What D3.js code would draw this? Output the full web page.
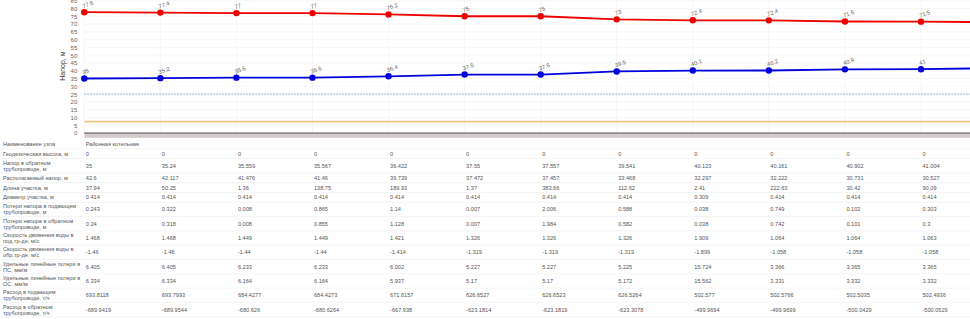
<!DOCTYPE html>
<html>
<head>
<meta charset="utf-8">
<script src="https://cdn.jsdelivr.net/npm/d3@7"></script>
<style>
  body { margin: 0; background: #fff; }
  svg { display: block; font-family: "Liberation Sans", Arial, sans-serif; }
  .tick-label { font-size: 6px; fill: #666; }
  .axis-label { font-size: 7px; fill: #333; }
  .pt-label { font-size: 5.8px; fill: #666; }
  .cell { font-size: 5.6px; fill: #555; }
</style>
</head>
<body>
<svg id="chart" width="970" height="319"></svg>
<script>
// DATA
// head in the supply pipe (red) and return pipe (blue), m
// the 13th point sits just past the right edge
const supplyHead = [77.6, 77.357, 77.035, 77.027, 76.161, 75.022, 75.014, 73.009, 72.42, 72.383, 71.633, 71.531, 71.2];
const returnHead = [35, 35.24, 35.559, 35.567, 36.422, 37.55, 37.557, 39.541, 40.123, 40.161, 40.902, 41.004, 41.7];
const staticHead = [7.3, 7.3, 7.3, 7.3, 7.3, 7.3, 7.3, 7.3, 7.3, 7.3, 7.3, 7.3, 7.3];
const minHead = 25;
const groundLevel = [0, 0, 0, 0, 0, 0, 0, 0, 0, 0, 0, 0, 0];
const yTicks = d3.range(0, 90, 5);

const rowLabels = [
    ["Наименование узла"],
    ["Геодезическая высота, м"],
    ["Напор в обратном", "трубопроводе, м"],
    ["Располагаемый напор, м"],
    ["Длина участка, м"],
    ["Диаметр участка, м"],
    ["Потери напора в подающем", "трубопроводе, м"],
    ["Потери напора в обратном", "трубопроводе, м"],
    ["Скорость движения воды в", "под.тр-де, м/с"],
    ["Скорость движения воды в", "обр.тр-де, м/с"],
    ["Удельные линейные потери в", "ПС, мм/м"],
    ["Удельные линейные потери в", "ОС, мм/м"],
    ["Расход в подающем", "трубопроводе, т/ч"],
    ["Расход в обратном", "трубопроводе, т/ч"]
];

const nodeNames = ["Районная котельная", "", "", "", "", "", "", "", "", "", "", ""];
const geoHeight = ["0", "0", "0", "0", "0", "0", "0", "0", "0", "0", "0", "0"];
const returnHeadCol = ["35", "35.24", "35.559", "35.567", "36.422", "37.55", "37.557", "39.541", "40.123", "40.161", "40.902", "41.004"];
const availHead = ["42.6", "42.117", "41.476", "41.46", "39.739", "37.472", "37.457", "33.468", "32.297", "32.222", "30.731", "30.527"];
const segLength = ["37.94", "50.25", "1.36", "138.75", "189.93", "1.37", "383.66", "112.62", "2.41", "222.63", "30.42", "90.09"];
const segDiam = ["0.414", "0.414", "0.414", "0.414", "0.414", "0.414", "0.414", "0.414", "0.309", "0.414", "0.414", "0.414"];
const lossSupply = ["0.243", "0.322", "0.008", "0.865", "1.14", "0.007", "2.006", "0.588", "0.038", "0.749", "0.102", "0.303"];
const lossReturn = ["0.24", "0.318", "0.008", "0.855", "1.128", "0.007", "1.984", "0.582", "0.038", "0.742", "0.101", "0.3"];
const speedSupply = ["1.468", "1.468", "1.449", "1.449", "1.421", "1.326", "1.326", "1.326", "1.909", "1.064", "1.064", "1.063"];
const speedReturn = ["-1.46", "-1.46", "-1.44", "-1.44", "-1.414", "-1.319", "-1.319", "-1.319", "-1.899", "-1.058", "-1.058", "-1.058"];
const specLossSupply = ["6.405", "6.405", "6.233", "6.233", "6.002", "5.227", "5.227", "5.225", "15.724", "3.366", "3.365", "3.365"];
const specLossReturn = ["6.334", "6.334", "6.164", "6.164", "5.937", "5.17", "5.17", "5.172", "15.562", "3.331", "3.332", "3.332"];
const flowSupply = ["693.8118", "693.7993", "684.4277", "684.4273", "671.6157", "626.6527", "626.6523", "626.5264", "502.577", "502.5766", "502.5035", "502.4936"];
const flowReturn = ["-689.9419", "-689.9544", "-680.626", "-680.6264", "-667.938", "-623.1814", "-623.1819", "-623.3078", "-499.9694", "-499.9699", "-500.0429", "-500.0529"];

const tableRows = [nodeNames, geoHeight, returnHeadCol, availHead, segLength, segDiam,
    lossSupply, lossReturn, speedSupply, speedReturn, specLossSupply, specLossReturn,
    flowSupply, flowReturn];

// SETUP
const svg = d3.select("#chart");
const W = 970;
const plotTop = 0.7, plotBottom = 133;

const x = d3.scaleLinear().domain([0, 11]).range([84.3, 921]);
const y = d3.scaleLinear().domain([0, 85]).range([plotBottom, plotTop]);
const idx = d3.range(supplyHead.length);
const visible = idx.filter(i => x(i) < W);

// grid
svg.append("g").selectAll("line")
    .data(yTicks)
    .join("line")
    .attr("x1", x(0)).attr("x2", W)
    .attr("y1", d => y(d)).attr("y2", d => y(d))
    .attr("stroke", "#f2f2f2").attr("stroke-width", 0.6);

svg.append("g").selectAll("line")
    .data(visible)
    .join("line")
    .attr("x1", d => x(d)).attr("x2", d => x(d))
    .attr("y1", y(85)).attr("y2", y(0))
    .attr("stroke", "#eeeeee").attr("stroke-width", 0.6);

// y axis
const yAxis = svg.append("g")
    .attr("transform", `translate(${x(0) - 5},0)`)
    .call(d3.axisLeft(y).tickValues(yTicks).tickSize(0).tickPadding(2));
yAxis.select(".domain").remove();
yAxis.selectAll("text").attr("class", "tick-label").attr("font-size", null).attr("font-family", null);

svg.append("text")
    .attr("class", "axis-label")
    .attr("transform", `translate(65,${y(43)}) rotate(-90)`)
    .attr("text-anchor", "middle")
    .text("Напор, м");

// ground
svg.append("path")
    .datum(idx)
    .attr("d", d3.area().x(i => x(i)).y0(y(-3.1)).y1(i => y(groundLevel[i])))
    .attr("fill", "#d3cacb");
svg.append("path")
    .datum(idx)
    .attr("d", d3.line().x(i => x(i)).y(i => y(groundLevel[i])))
    .attr("fill", "none").attr("stroke", "#555").attr("stroke-width", 1.2);

// static head
svg.append("path")
    .datum(idx)
    .attr("d", d3.line().x(i => x(i)).y(i => y(staticHead[i])))
    .attr("fill", "none").attr("stroke", "#f4c57e").attr("stroke-width", 1.8);

// minimum head
svg.append("line")
    .attr("x1", x(0)).attr("x2", W)
    .attr("y1", y(minHead)).attr("y2", y(minHead))
    .attr("stroke", "#5b8cd0").attr("stroke-width", 0.8)
    .attr("stroke-dasharray", "1.5,1.5");

// head lines with points
function drawSeries(values, color) {
    svg.append("path")
        .datum(idx)
        .attr("d", d3.line().x(i => x(i)).y(i => y(values[i])))
        .attr("fill", "none").attr("stroke", color).attr("stroke-width", 1.8);

    svg.append("g").selectAll("circle")
        .data(idx)
        .join("circle")
        .attr("cx", i => x(i)).attr("cy", i => y(values[i]))
        .attr("r", 3.2).attr("fill", color);

    // labels only where they can be seen
    svg.append("g").selectAll("text")
        .data(visible)
        .join("text")
        .attr("class", "pt-label")
        .attr("transform", i => `translate(${x(i) - 1},${y(values[i]) - 4}) rotate(-20)`)
        .text(i => d3.format(".1f")(values[i]).replace(/\.0$/, ""));
}
drawSeries(supplyHead, "#ee0000");
drawSeries(returnHead, "#0000dd");

// TABLE
const rowTop = 139, singleH = 9.8, doubleH = 14.3, lineGap = 6;
let yPos = rowTop;
const table = svg.append("g");
rowLabels.forEach((label, r) => {
    const h = label.length > 1 ? doubleH : singleH;
    const mid = yPos + h / 2;

    table.append("line")
        .attr("x1", 0).attr("x2", W)
        .attr("y1", yPos + h).attr("y2", yPos + h)
        .attr("stroke", "#ededed").attr("stroke-width", 0.6);

    label.forEach((ln, k) => {
        table.append("text")
            .attr("class", "cell")
            .attr("x", 3)
            .attr("y", mid + (k - (label.length - 1) / 2) * lineGap)
            .attr("dy", "0.35em")
            .text(ln);
    });

    table.append("g").selectAll("text")
        .data(tableRows[r])
        .join("text")
        .attr("class", "cell")
        .attr("x", (d, i) => x(i) + 1.5)
        .attr("y", mid)
        .attr("dy", "0.35em")
        .text(d => d);

    yPos += h;
});
</script>
</body>
</html>
